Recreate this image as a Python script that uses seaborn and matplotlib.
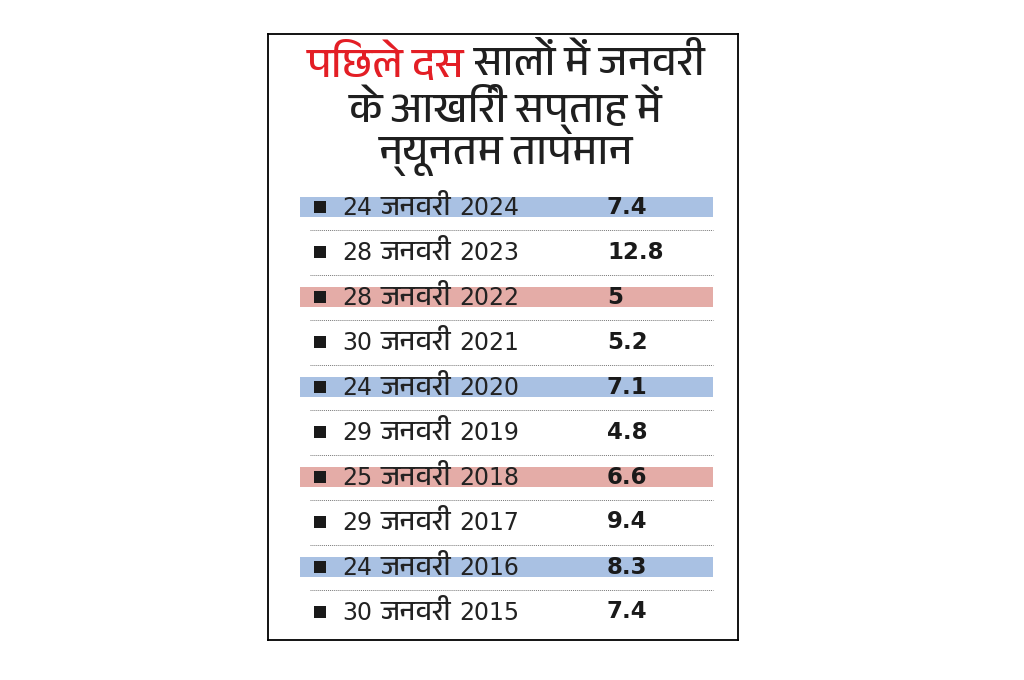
import matplotlib
matplotlib.use("Agg")
import matplotlib.pyplot as plt
from matplotlib import font_manager as fm
from matplotlib.offsetbox import AnnotationBbox, HPacker, TextArea
import pandas as pd
import seaborn as sns

# table content
title_red = "पिछले दस"
title_line1 = " सालों में जनवरी"
title_line2 = "के आखिरी सप्ताह में"
title_line3 = "न्यूनतम तापमान"
dates = [
    "24 जनवरी 2024", "28 जनवरी 2023", "28 जनवरी 2022", "30 जनवरी 2021",
    "24 जनवरी 2020", "29 जनवरी 2019", "25 जनवरी 2018", "29 जनवरी 2017",
    "24 जनवरी 2016", "30 जनवरी 2015",
]
temps = [7.4, 12.8, 5, 5.2, 7.1, 4.8, 6.6, 9.4, 8.3, 7.4]
highlight = ["blue", None, "red", None, "blue", None, "red", None, "blue", None]

band_colors = {"blue": "#a9c1e3", "red": "#e4aca7"}

sns.set_theme(style="white")
deva = sorted({f.name for f in fm.fontManager.ttflist if "Devanagari" in f.name})
plt.rcParams["font.family"] = deva + ["Noto Sans", "DejaVu Sans"]
latin = dict(size=17, family="DejaVu Sans", color="#222222")
hindi = dict(size=20, family=deva + ["DejaVu Sans"], color="#222222")

df = pd.DataFrame({"date": dates, "temp": temps, "hl": highlight})
df["row"] = range(len(df))

W, H = 1024, 680
fig = plt.figure(figsize=(W / 100, H / 100), dpi=100)
# box occupies px x 268..738, y 34..640 ; rows are 45px apart, first at y=207
ax = fig.add_axes([268 / W, 1 - 640 / H, 470 / W, 606 / H])
ax.set_xlim(0, 470)
ax.set_ylim((640 - 207) / 45, (34 - 207) / 45)

for _, r in df.iterrows():
    if r["hl"]:
        ax.axhspan(r["row"] - 0.225, r["row"] + 0.225, xmin=32 / 470, xmax=445 / 470,
                   color=band_colors[r["hl"]], lw=0, zorder=0)
ax.hlines(df["row"][:-1] + 0.5, 42, 445, colors="#777777", linestyles=(0, (1, 1)), lw=0.7)

sns.scatterplot(x=[52] * len(df), y=df["row"], marker="s", s=75, color="#1a1a1a",
                edgecolor="none", ax=ax, zorder=3)
for _, r in df.iterrows():
    day, month, year = r["date"].split(" ")
    pack = HPacker(children=[TextArea(day, textprops=latin),
                             TextArea(month, textprops=hindi),
                             TextArea(year, textprops=latin)],
                   align="baseline", pad=0, sep=6)
    ab = AnnotationBbox(pack, (74, r["row"] + 0.01), box_alignment=(0, 0.5),
                        frameon=False, pad=0, zorder=4)
    ax.add_artist(ab)
    ax.text(339, r["row"], f"{r['temp']:g}", fontsize=16.5, fontweight="bold",
            va="center", ha="left", color="#1a1a1a", family="DejaVu Sans")

ax.set_xticks([])
ax.set_yticks([])
ax.set_xlabel("")
ax.set_ylabel("")
for s in ax.spines.values():
    s.set_visible(True)
    s.set_color("black")
    s.set_linewidth(1.3)

# title, first line has a red lead-in
cx = 506 / W
tsize = 30
t_red = fig.text(0, 1 - 63 / H, title_red, fontsize=tsize, fontweight="bold", color="#e31e25",
                 va="center", ha="left")
t_blk = fig.text(0, 1 - 63 / H, title_line1, fontsize=tsize, fontweight="bold", color="#1f1f1f",
                 va="center", ha="left")
fig.canvas.draw()
rend = fig.canvas.get_renderer()
w1 = t_red.get_window_extent(rend).width / W
w2 = t_blk.get_window_extent(rend).width / W
x0 = cx - (w1 + w2) / 2
t_red.set_x(x0)
t_blk.set_x(x0 + w1)
fig.text(cx, 1 - 109 / H, title_line2, fontsize=tsize, fontweight="bold", color="#1f1f1f",
         va="center", ha="center")
fig.text(cx, 1 - 157 / H, title_line3, fontsize=tsize, fontweight="bold", color="#1f1f1f",
         va="center", ha="center")

fig.savefig("out.png", dpi=100)
